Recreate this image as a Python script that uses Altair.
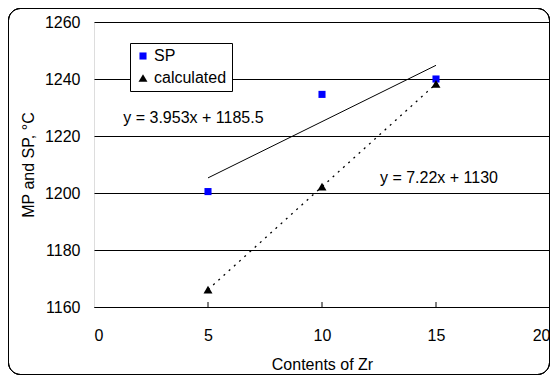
import altair as alt
import pandas as pd

# ---- data ----
zr = [5, 10, 15]
sp_vals = [1200.5, 1234.6, 1240.0]
calc_vals = [1166.1, 1202.2, 1238.3]
series_names = ["SP", "calculated"]

trend_x = [5, 15]
sp_trend = [1205.3, 1244.8]

eq_texts = ["y = 3.953x + 1185.5", "y = 7.22x + 1130"]
eq_x = [4.36, 15.13]
eq_y = [1226.3, 1205.2]

x_ticks = [0, 5, 10, 15, 20]
inner_ticks = [5, 10, 15]
y_ticks = [1160, 1180, 1200, 1220, 1240, 1260]

FONT = "Liberation Sans"
W, H = 456, 285

pts = pd.DataFrame({
    "zr": zr * 2,
    "val": sp_vals + calc_vals,
    "series": [series_names[0]] * 3 + [series_names[1]] * 3,
})
calc_df = pd.DataFrame({"zr": zr, "val": calc_vals})
trend_df = pd.DataFrame({"zr": trend_x, "val": sp_trend})
eq_df = pd.DataFrame({"t": eq_texts, "x": eq_x, "y": eq_y})
tick_df = pd.DataFrame({"x": inner_ticks})

xs = alt.Scale(domain=[0, 20], nice=False)
ys = alt.Scale(domain=[1160, 1260], nice=False, zero=False)

x_axis = alt.Axis(values=x_ticks, grid=False, ticks=False, domainColor="black",
                  labelFontSize=16, labelPadding=20, labelColor="black",
                  titleFontSize=16, titleFontWeight="normal", titlePadding=13,
                  titleColor="black", title="Contents of Zr")
y_axis = alt.Axis(values=y_ticks, grid=True, gridColor="black", gridOpacity=1,
                  format="d",
                  ticks=False, domain=False, labelFontSize=16, labelPadding=14,
                  labelColor="black", titleFontSize=16, titleFontWeight="normal",
                  titlePadding=8, titleColor="black", title="MP and SP, °C")

legend = alt.Legend(title=None, orient="none", legendX=36, legendY=21,
                    fillColor="white", strokeColor="black",
                    padding=5, labelFontSize=16, labelFont=FONT,
                    rowPadding=6, labelOffset=3, labelColor="black")

base_points = alt.Chart(pts).mark_point(filled=True, opacity=1).encode(
    x=alt.X("zr:Q", scale=xs, axis=x_axis),
    y=alt.Y("val:Q", scale=ys, axis=y_axis),
    color=alt.Color("series:N",
                    scale=alt.Scale(domain=series_names, range=["#0000FF", "#000000"]),
                    legend=legend),
    shape=alt.Shape("series:N",
                    scale=alt.Scale(domain=series_names, range=["square", "triangle-up"]),
                    legend=legend),
    size=alt.Size("series:N",
                  scale=alt.Scale(domain=series_names, range=[50, 80]),
                  legend=legend),
)

calc_line = alt.Chart(calc_df).mark_line(color="black", strokeWidth=1.3,
                                          strokeDash=[2, 5]).encode(
    x=alt.X("zr:Q", scale=xs), y=alt.Y("val:Q", scale=ys))

sp_line = alt.Chart(trend_df).mark_line(color="black", strokeWidth=1).encode(
    x=alt.X("zr:Q", scale=xs), y=alt.Y("val:Q", scale=ys))

eq_text = alt.Chart(eq_df).mark_text(fontSize=16, font=FONT, color="black").encode(
    x=alt.X("x:Q", scale=xs), y=alt.Y("y:Q", scale=ys), text="t:N")

ticks = alt.Chart(tick_df).mark_rule(color="black", strokeWidth=1).encode(
    x=alt.X("x:Q", scale=xs), y=alt.value(H), y2=alt.value(H - 5))

border = alt.Chart(tick_df).mark_rect(fill=None, stroke="black", strokeWidth=1,
                                      cornerRadius=12).encode(
    x=alt.value(-85.5), x2=alt.value(W - 0.5), y=alt.value(-13.5), y2=alt.value(352.5))

chart = alt.layer(border, sp_line, calc_line, ticks, base_points, eq_text).properties(
    width=W, height=H,
    autosize=alt.AutoSizeParams(type="none"),
    padding={"left": 86, "top": 14, "right": 0, "bottom": 68},
).configure_view(stroke="black", strokeWidth=1).configure(
    font=FONT, background="white")

chart.save("out.html", embed_options={"renderer": "svg", "actions": False})
